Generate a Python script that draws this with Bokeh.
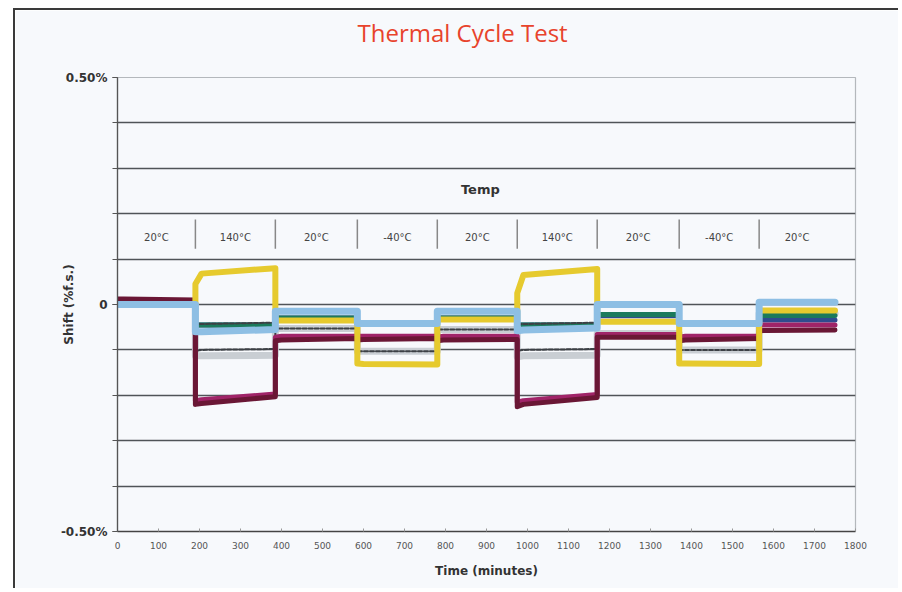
from bokeh.plotting import figure
from bokeh.models import FixedTicker, Label, Range1d, Title
from bokeh.core.properties import value
from bokeh.embed import file_html
from bokeh.resources import INLINE

# ---------------- data ----------------
# temperature segments (minutes)
seg_edges = [0, 190, 385, 585, 780, 975, 1170, 1370, 1565, 1750]
seg_temps = ["20°C", "140°C", "20°C", "-40°C", "20°C", "140°C", "20°C", "-40°C", "20°C"]

# read-off knots: for each segment its start, start+15 min and end
knot_times = [0, 15, 190, 190, 205, 385, 385, 400, 585, 585, 600, 780,
              780, 795, 975, 975, 990, 1170, 1170, 1185, 1370, 1370, 1385, 1565,
              1565, 1580, 1750]

# shift in % of full scale
yellow = [0.0, 0.0, 0.0, 0.045, 0.068, 0.08, -0.035, -0.035, -0.035,
          -0.13, -0.131, -0.132, -0.033, -0.033, -0.033, 0.025, 0.065, 0.078,
          -0.038, -0.038, -0.038, -0.13, -0.13, -0.131, -0.013, -0.013, -0.013]
light_blue = [0.0, 0.0, 0.0, -0.06, -0.06, -0.055, -0.015, -0.015, -0.015,
              -0.042, -0.042, -0.042, -0.015, -0.015, -0.015, -0.058, -0.056, -0.052,
              0.0, 0.0, 0.0, -0.042, -0.042, -0.042, 0.005, 0.005, 0.005]
maroon = [0.012, 0.012, 0.01, -0.22, -0.218, -0.203, -0.08, -0.078, -0.075,
          -0.078, -0.077, -0.075, -0.08, -0.078, -0.077, -0.225, -0.22, -0.205,
          -0.072, -0.072, -0.072, -0.08, -0.078, -0.075, -0.058, -0.057, -0.056]
magenta = [0.008, 0.008, 0.008, -0.212, -0.21, -0.197, -0.072, -0.07, -0.07,
           -0.07, -0.07, -0.07, -0.072, -0.07, -0.07, -0.215, -0.212, -0.198,
           -0.066, -0.066, -0.066, -0.072, -0.07, -0.07, -0.045, -0.045, -0.045]
navy = [0.0, 0.0, 0.0, -0.045, -0.045, -0.045, -0.03, -0.03, -0.03,
        -0.042, -0.042, -0.042, -0.03, -0.03, -0.03, -0.045, -0.045, -0.045,
        -0.025, -0.025, -0.025, -0.042, -0.042, -0.042, -0.034, -0.034, -0.034]
teal = [0.0, 0.0, 0.0, -0.045, -0.045, -0.045, -0.03, -0.03, -0.03,
        -0.042, -0.042, -0.042, -0.03, -0.03, -0.03, -0.045, -0.045, -0.045,
        -0.022, -0.022, -0.022, -0.042, -0.042, -0.042, -0.024, -0.024, -0.024]
light_gray = [0.0, 0.0, 0.0, -0.113, -0.113, -0.112, -0.053, -0.053, -0.053,
              -0.103, -0.103, -0.103, -0.055, -0.055, -0.055, -0.115, -0.113, -0.112,
              -0.064, -0.064, -0.064, -0.1, -0.1, -0.1, -0.02, -0.02, -0.02]
dark_gray_a = [0.0, 0.0, 0.0, -0.043, -0.043, -0.04, -0.015, -0.015, -0.015,
               -0.042, -0.042, -0.042, -0.015, -0.015, -0.015, -0.043, -0.043, -0.04,
               0.0, 0.0, 0.0, -0.042, -0.042, -0.042, 0.005, 0.005, 0.005]
dark_gray_b = [0.0, 0.0, 0.0, -0.102, -0.1, -0.098, -0.053, -0.053, -0.053,
               -0.103, -0.103, -0.103, -0.055, -0.055, -0.055, -0.102, -0.1, -0.098,
               -0.064, -0.064, -0.064, -0.1, -0.1, -0.1, -0.02, -0.02, -0.02]

x_ticks = [0, 100, 200, 300, 400, 500, 600, 700, 800, 900, 1000,
           1100, 1200, 1300, 1400, 1500, 1600, 1700, 1800]
y_label_ticks = [-0.5, 0.0, 0.5]
y_grid_ticks = [-0.5, -0.4, -0.3, -0.2, -0.1, 0.0, 0.1, 0.2, 0.3, 0.4, 0.5]
y_tick_labels = {-0.5: "-0.50%", 0.0: "0", 0.5: "0.50%"}

# ---------------- figure ----------------
BG = "#f7f9fc"
p = figure(width=885, height=580, output_backend="svg", toolbar_location=None,
           x_range=Range1d(0, 1800), y_range=Range1d(-0.5, 0.5),
           min_border_left=102, min_border_right=45, min_border_top=67,
           min_border_bottom=59)
p.styles = {"margin-left": "13px", "margin-top": "8px",
            "border-top": "2px solid #3a3a3a", "border-left": "2px solid #3a3a3a"}
p.background_fill_color = BG
p.border_fill_color = BG
p.outline_line_color = "#b4b8bc"
p.outline_line_width = 1.2

p.title.text = "Thermal Cycle Test"
p.title.align = "left"
p.title.offset = 240
p.title.standoff = 0
p.title.text_font = "Open Sans"
p.title.text_font_style = "normal"
p.title.text_font_size = "24px"
p.title.text_color = "#e8432c"
# empty spacer between the title and the plot frame
p.add_layout(Title(text=" ", text_font_size="1px", standoff=26), "above")

p.xgrid.visible = False
p.ygrid.ticker = FixedTicker(ticks=y_grid_ticks)
p.ygrid.grid_line_color = "#505458"
p.ygrid.grid_line_width = 1.3

# y axis
p.yaxis.ticker = FixedTicker(ticks=y_label_ticks, minor_ticks=y_grid_ticks)
p.yaxis.major_label_overrides = y_tick_labels
p.yaxis.axis_line_color = "#555"
p.yaxis.axis_line_width = 1.3
p.yaxis.major_tick_out = 5
p.yaxis.major_tick_in = 0
p.yaxis.minor_tick_out = 5
p.yaxis.minor_tick_in = 0
p.yaxis.major_tick_line_color = "#555"
p.yaxis.minor_tick_line_color = "#555"
p.yaxis.major_label_standoff = 5
p.yaxis.major_label_text_font = "DejaVu Sans"
p.yaxis.major_label_text_font_style = "bold"
p.yaxis.major_label_text_font_size = "12px"
p.yaxis.major_label_text_color = "#333"
p.yaxis.axis_label = "Shift (%f.s.)"
p.yaxis.axis_label_text_font = "DejaVu Sans"
p.yaxis.axis_label_text_font_style = "bold"
p.yaxis.axis_label_text_font_size = "12px"
p.yaxis.axis_label_text_color = "#333"
p.yaxis.axis_label_standoff = -18

# x axis
p.xaxis.ticker = FixedTicker(ticks=x_ticks)
p.xaxis.axis_line_color = "#444"
p.xaxis.axis_line_width = 1.5
p.xaxis.major_tick_in = 3
p.xaxis.major_tick_out = 0
p.xaxis.major_tick_line_color = "#999"
p.xaxis.minor_tick_line_color = None
p.xaxis.major_label_standoff = 10
p.xaxis.major_label_text_font = "DejaVu Sans"
p.xaxis.major_label_text_font_size = "9px"
p.xaxis.major_label_text_color = "#555"
p.xaxis.axis_label = "Time (minutes)"
p.xaxis.axis_label_text_font = "DejaVu Sans"
p.xaxis.axis_label_text_font_style = "bold"
p.xaxis.axis_label_text_font_size = "12px"
p.xaxis.axis_label_text_color = "#333"
p.xaxis.axis_label_standoff = 12

# temperature band
mids = [(a + b) / 2 for a, b in zip(seg_edges[:-1], seg_edges[1:])]
inner = seg_edges[1:-1]
p.segment(x0=inner, y0=[0.123] * len(inner), x1=inner, y1=[0.187] * len(inner),
          line_color="#888", line_width=1.5)
p.text(x=mids, y=[0.148] * len(mids), text=seg_temps, text_align="center",
       text_baseline="middle", text_font=value("DejaVu Sans"),
       text_font_size="10px", text_color="#444")
p.add_layout(Label(x=885, y=0.253, text="Temp", text_align="center",
                   text_baseline="middle", text_font="DejaVu Sans",
                   text_font_style="bold", text_font_size="13px",
                   text_color="#333"))

# series, bottom to top
series = [
    (light_gray, "#c9ced3", 7, None),
    (dark_gray_b, "#3c4045", 2, "4 2"),
    (navy, "#2f4b8e", 5, None),
    (magenta, "#a02468", 5, None),
    (maroon, "#6a1735", 5, None),
    (teal, "#1b7a5c", 5, None),
    (dark_gray_a, "#3c4045", 2, "4 2"),
    (yellow, "#e6ca2e", 6, None),
    (light_blue, "#8ebfe4", 7, None),
]
for vals, color, w, dash in series:
    kw = {}
    if dash:
        kw["line_dash"] = dash
    p.line(x=knot_times, y=vals, line_color=color, line_width=w,
           line_join="round", line_cap="round", **kw)

open("out.html", "w").write(file_html(p, INLINE))
